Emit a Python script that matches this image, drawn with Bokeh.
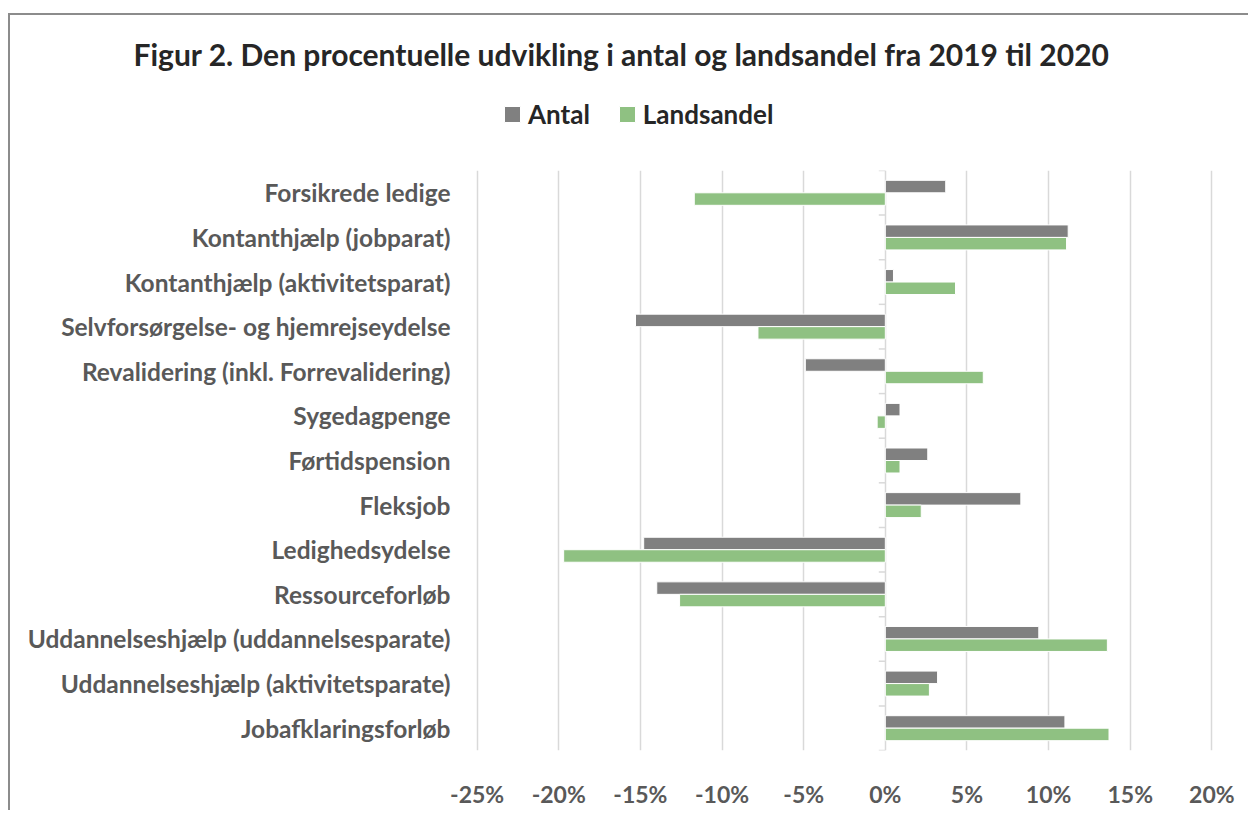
from bokeh.plotting import figure
from bokeh.layouts import column
from bokeh.models import (FactorRange, Range1d, FixedTicker, PrintfTickFormatter,
                          Legend, LegendItem, Title, ColumnDataSource)
from bokeh.transform import dodge
from bokeh.embed import file_html
from bokeh.resources import INLINE

title_text = "Figur 2. Den procentuelle udvikling i antal og landsandel fra 2019 til 2020"
series_names = ["Antal", "Landsandel"]

categories = [
    "Forsikrede ledige",
    "Kontanthjælp (jobparat)",
    "Kontanthjælp (aktivitetsparat)",
    "Selvforsørgelse- og hjemrejseydelse",
    "Revalidering (inkl. Forrevalidering)",
    "Sygedagpenge",
    "Førtidspension",
    "Fleksjob",
    "Ledighedsydelse",
    "Ressourceforløb",
    "Uddannelseshjælp (uddannelsesparate)",
    "Uddannelseshjælp (aktivitetsparate)",
    "Jobafklaringsforløb",
]
antal = [3.7, 11.2, 0.5, -15.3, -4.9, 0.9, 2.6, 8.3, -14.8, -14.0, 9.4, 3.2, 11.0]
landsandel = [-11.7, 11.1, 4.3, -7.8, 6.0, -0.5, 0.9, 2.2, -19.7, -12.6, 13.6, 2.7, 13.7]
x_ticks = [-25, -20, -15, -10, -5, 0, 5, 10, 15, 20]

FONT = "Lato"
TXT = "#595959"
DARK = "#262626"
GRAY = "#808080"
GREEN = "#8fc182"
GRID = "#d9d9d9"

src = ColumnDataSource(dict(cat=categories, antal=antal, landsandel=landsandel,
                            zero=[0] * len(categories)))

# ---------------- main chart ----------------
p = figure(width=1238, height=640,
           y_range=FactorRange(factors=list(reversed(categories))),
           x_range=Range1d(x_ticks[0] - 0.1, x_ticks[-1] + 0.1),
           output_backend="svg", toolbar_location=None,
           min_border_left=465, min_border_right=35,
           min_border_top=0, min_border_bottom=59)
p.outline_line_color = None
p.background_fill_color = "white"
p.border_fill_color = "white"


def add_bars(fig, visible=True):
    r1 = fig.hbar(y=dodge("cat", 0.14, range=p.y_range), left="zero", right="antal",
                  height=0.28, source=src, fill_color=GRAY, line_color="white",
                  line_width=1, visible=visible)
    r2 = fig.hbar(y=dodge("cat", -0.14, range=p.y_range), left="zero",
                  right="landsandel", height=0.28, source=src, fill_color=GREEN,
                  line_color="white", line_width=1, visible=visible)
    return r1, r2


add_bars(p)

# small category tick marks on the zero axis
tick_src = ColumnDataSource(dict(cat=categories, zero=[0] * len(categories),
                                 tl=[-0.4] * len(categories)))
p.segment(x0="tl", x1="zero", y0=dodge("cat", -0.5, range=p.y_range),
          y1=dodge("cat", -0.5, range=p.y_range), source=tick_src,
          line_color=GRID, line_width=1.5)
top_src = ColumnDataSource(dict(cat=categories[:1], zero=[0], tl=[-0.4]))
p.segment(x0="tl", x1="zero", y0=dodge("cat", 0.5, range=p.y_range),
          y1=dodge("cat", 0.5, range=p.y_range), source=top_src,
          line_color=GRID, line_width=1.5)

p.xaxis.ticker = FixedTicker(ticks=x_ticks)
p.xaxis.formatter = PrintfTickFormatter(format="%d%%")
p.xaxis.axis_line_color = None
p.xaxis.major_tick_line_color = None
p.xaxis.minor_tick_line_color = None
p.xaxis.major_label_text_font = FONT
p.xaxis.major_label_text_font_size = "23px"
p.xaxis.major_label_text_font_style = "bold"
p.xaxis.major_label_text_color = TXT
p.xaxis.major_label_standoff = 23

p.yaxis.axis_line_color = None
p.yaxis.major_tick_line_color = None
p.yaxis.minor_tick_line_color = None
p.yaxis.major_label_text_font = FONT
p.yaxis.major_label_text_font_size = "24.5px"
p.yaxis.major_label_text_font_style = "bold"
p.yaxis.major_label_text_color = TXT
p.yaxis.major_label_standoff = 19

p.xgrid.ticker = FixedTicker(ticks=x_ticks)
p.xgrid.grid_line_color = GRID
p.xgrid.grid_line_width = 1.5
p.ygrid.grid_line_color = None

# ---------------- header: title + legend ----------------
head = figure(width=1238, height=155, output_backend="svg", toolbar_location=None,
              x_range=p.x_range, y_range=p.y_range,
              min_border_left=465, min_border_right=35, min_border_top=56,
              min_border_bottom=0)
head.axis.visible = False
head.grid.grid_line_color = None
head.outline_line_color = None
head.background_fill_color = "white"
head.border_fill_color = "white"

h_antal, h_land = add_bars(head, visible=False)

head.add_layout(Title(text=title_text, align="left", offset=-342,
                      text_font=FONT, text_font_size="30px", text_font_style="bold",
                      text_color=DARK, standoff=0), "above")

legend = Legend(items=[LegendItem(label=series_names[0], renderers=[h_antal]),
                       LegendItem(label=series_names[1], renderers=[h_land])],
                location=(27, 40), orientation="horizontal",
                glyph_width=20, glyph_height=20, label_standoff=6, spacing=27,
                padding=0, margin=0, border_line_color=None,
                background_fill_alpha=0, inactive_fill_alpha=0,
                label_text_font=FONT, label_text_font_size="26px",
                label_text_font_style="bold", label_text_color=DARK)
head.add_layout(legend)

layout = column(head, p, spacing=0,
                styles={"margin-left": "8px", "margin-top": "13px",
                        "border-top": "2px solid #8c8c8c",
                        "border-left": "2px solid #8c8c8c"})

open("out.html", "w").write(file_html(layout, INLINE))
